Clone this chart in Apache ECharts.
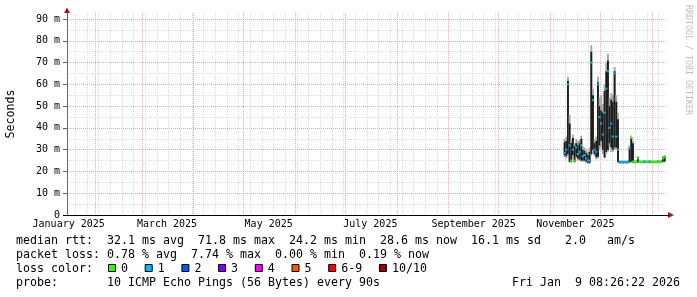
<!DOCTYPE html>
<html><head><meta charset="utf-8">
<script src="https://cdn.jsdelivr.net/npm/echarts@6/dist/echarts.min.js"></script>
<style>html,body{margin:0;padding:0;background:#fff}#c{width:697px;height:297px}</style>
</head><body><div id="c"></div>
<script>
// ---- data ----
const dates = [
'2025-11-09','2025-11-10','2025-11-11','2025-11-12','2025-11-13','2025-11-14','2025-11-15','2025-11-16','2025-11-17','2025-11-18','2025-11-19','2025-11-20','2025-11-21','2025-11-22','2025-11-23','2025-11-24','2025-11-25','2025-11-26','2025-11-27','2025-11-28','2025-11-29','2025-11-30',
'2025-12-01','2025-12-02','2025-12-03','2025-12-04','2025-12-05','2025-12-06','2025-12-07','2025-12-08','2025-12-09','2025-12-10','2025-12-11','2025-12-12','2025-12-13','2025-12-14','2025-12-15','2025-12-16','2025-12-17','2025-12-18','2025-12-19','2025-12-20','2025-12-21','2025-12-22','2025-12-23','2025-12-24','2025-12-25','2025-12-26','2025-12-27','2025-12-28','2025-12-29','2025-12-30','2025-12-31',
'2026-01-01','2026-01-02','2026-01-03','2026-01-04','2026-01-05','2026-01-06','2026-01-07','2026-01-08'];
const haloLow = [26.5,26,27,24,24,26.5,24,26,25,25,24.5,24.5,24.5,24,23.5,23.5,27,28,27,25.5,26,30,
 31,28,26,28,29,31,29,29,30,30,24,23.6,23.7,23.6,23.7,23.6,23.7,24,24,23.8,23.7,23.7,24,23.8,23.7,23.8,23.7,23.8,23.8,23.7,23.8,
 23.8,23.7,23.8,23.8,23.7,23.8,24.2,24.2];
const smokeLow = [27.5,27,28,24.5,24.5,27.5,24.5,26.8,26,25.5,25,25,25,24.5,24,24,28,30,28,26.5,26.8,32,
 34,30,26.5,29,30,33,31,30,31,31,24.3,23.8,23.9,23.8,23.9,23.8,23.9,24.2,24.5,24,23.9,23.9,24.2,24,23.9,24,23.9,24,24,23.9,24,
 24,23.9,24,24,23.9,24,24.5,24.5];
const smokeHigh = [33.5,34,61.5,42,33,35.4,31.5,33,32,33,35,30,29.5,28.5,27.5,29,75,55,33,34,61,50,
 48,47,57,66,71,50,53,52,66,52,44,24.8,24.7,24.6,24.7,24.6,24.7,31,35.6,33,24.8,24.8,26.5,24.8,24.7,24.8,24.9,24.8,24.8,24.9,24.8,
 24.8,24.7,24.8,24.9,24.8,24.9,26.5,27];
const haloHigh = [35,36,63.5,46,35,37,33,35,34,34.5,36.5,31.5,31,30,29,31,78,58,35,36,63.5,54,
 55,51,60,70,74,54,56,55,68,55,47,25.2,25,25,25,25,25.1,32,36.5,34,25.2,25.1,27,25.1,25,25.1,25.2,25.1,25.1,25.2,25.1,
 25.1,25,25.1,25.2,25.1,25.2,27,27.5];
const medianRtt = [28.5,30,60,32,25,30,25,31,28,29,32,27,27.5,26,25,25,70,52.8,30,29,60,45,
 42,37,47,58,66,40,42,36,65,36,30,24.2,24.2,24.1,24.2,24.2,24.2,30.6,35.4,24.5,24.4,24.3,26,24.4,24.3,24.4,24.4,24.3,24.4,24.4,24.3,
 24.4,24.3,24.4,24.4,24.3,24.4,26,26.5];
const lossClass = [1,1,1,1,0,1,0,1,1,1,1,1,1,1,1,1,1,1,1,1,1,1,
 1,1,1,1,1,1,1,1,1,1,1,1,1,1,1,1,1,1,0,0,0,0,0,0,0,0,1,0,0,1,0,
 0,0,0,0,0,0,0,0];
const lossLabels = ['0','1','2','3','4','5','6-9','10/10'];
const lossColors = ['#26ff00','#00b8ff','#0059ff','#7e00ff','#ff00ff','#ff5500','#ff0000','#a00000'];
const monthLabels = ['January 2025','March 2025','May 2025','July 2025','September 2025','November 2025'];
const monthLabelDates = ['2025-01-16','2025-03-16','2025-05-16','2025-07-16','2025-09-16','2025-11-16'];
const yMajorTicks = [10,20,30,40,50,60,70,80,90];
const yMinorTicks = [5,15,25,35,45,55,65,75,85];
const yLabelTicks = [0,10,20,30,40,50,60,70,80,90];
const legendLine1 = [[16,'median rtt:  32.1 ms avg  71.8 ms max  24.2 ms min  28.6 ms now  16.1 ms sd'],[565,'2.0'],[607,'am/s']];
const legendLine2 = [[16,'packet loss: 0.78 % avg  7.74 % max  0.00 % min  0.19 % now']];
const probeText = '10 ICMP Echo Pings (56 Bytes) every 90s';
const stampText = 'Fri Jan  9 08:26:22 2026';

// ---- helpers: day number since 2025-01-01 (UTC) ----
const D0 = Date.UTC(2025,0,1);
function dayNum(s){const p=s.split('-').map(Number);return (Date.UTC(p[0],p[1]-1,p[2])-D0)/86400000;}
const X_MIN = 14, X_MAX = 374; // axis extent in days
const mondays=[]; for(let d=dayNum('2025-01-20'); d<X_MAX; d+=7) mondays.push(d);
const monthStarts=[]; for(let m=1;m<13;m++){monthStarts.push((Date.UTC(2025,m,1)-D0)/86400000);}
const labelDays = monthLabelDates.map(dayNum);
const xs = dates.map(s=>dayNum(s)+0.5);

const MONO = 'DejaVu Sans Mono';
const FS = 11.63;
const chart = echarts.init(document.getElementById('c'), null, {renderer:'canvas'});

const graphic = [];
graphic.push({type:'polygon', shape:{points:[[64,13],[70,13],[67,7.5]]}, style:{fill:'#a01818'}, z:100});
graphic.push({type:'polygon', shape:{points:[[668,212],[668,218],[674,215]]}, style:{fill:'#a01818'}, z:100});
graphic.push({type:'line', shape:{x1:63, y1:215.5, x2:67, y2:215.5}, style:{stroke:'#000', lineWidth:1}, z:100});
graphic.push({type:'line', shape:{x1:667, y1:215.5, x2:669, y2:215.5}, style:{stroke:'#000', lineWidth:1}, z:100});
graphic.push({type:'text', x:688, y:5, rotation:-Math.PI/2, style:{text:'RRDTOOL / TOBI OETIKER', fontFamily:MONO, fontSize:8.3, fill:'#bdbdbd', align:'left', verticalAlign:'middle'}});
graphic.push({type:'text', x:11, y:114, rotation:Math.PI/2, style:{text:'Seconds', fontFamily:MONO, fontSize:FS, fill:'#000', align:'center', verticalAlign:'middle'}});
function txt(x,y,t,align){graphic.push({type:'text', x:x, y:y, style:{text:t, fontFamily:MONO, fontSize:FS, fill:'#000', align:align||'left', verticalAlign:'middle'}});}
legendLine1.forEach(a=>txt(a[0],241,a[1]));
legendLine2.forEach(a=>txt(a[0],255,a[1]));
txt(16,268.5,'loss color:');
let bx = 108.5;
lossLabels.forEach((l,i)=>{
  graphic.push({type:'rect', shape:{x:bx, y:264.5, width:7, height:7}, style:{fill:lossColors[i], stroke:'#000', lineWidth:1}});
  txt(bx+12.5, 268.5, l);
  bx += 22.7 + l.length*7 + 7;
});
txt(16,282.5,'probe:');
txt(107,282.5,probeText);
txt(680,282.5,stampText,'right');

const smokeData = xs.map((x,i)=>[x, haloLow[i], smokeLow[i], smokeHigh[i], haloHigh[i]]);
function renderSmoke(params, api){
  const x = api.value(0);
  const a = api.coord([x-0.5, api.value(1)]), b = api.coord([x+0.5, api.value(4)]);
  const c = api.coord([x-0.5, api.value(2)]), d = api.coord([x+0.5, api.value(3)]);
  return {type:'group', children:[
    {type:'rect', shape:{x:a[0], y:b[1], width:b[0]-a[0]+0.25, height:a[1]-b[1]}, style:{fill:'#a8a8a8'}},
    {type:'rect', shape:{x:c[0], y:d[1], width:d[0]-c[0]+0.25, height:c[1]-d[1]}, style:{fill:'#1e1e1e'}}
  ]};
}

chart.setOption({
  animation:false,
  grid:{left:67, right:30, top:13, bottom:82, containLabel:false},
  graphic: graphic,
  xAxis:[
    {type:'value', min:X_MIN, max:X_MAX, z:1,
     axisLine:{show:true, onZero:false, lineStyle:{color:'#000', width:1}},
     axisTick:{show:false, customValues:monthStarts},
     splitLine:{show:true, lineStyle:{color:'#eca9a9', type:[1,1], width:1}},
     axisLabel:{customValues:labelDays, margin:4, fontFamily:MONO, fontSize:10, color:'#000',
       formatter:(v)=>{const i=labelDays.findIndex(d=>Math.abs(d-v)<0.01);return i>=0?monthLabels[i]:'';}}},
    {type:'value', min:X_MIN, max:X_MAX, z:0, position:'bottom',
     axisLine:{show:false}, axisLabel:{show:false},
     axisTick:{show:false, customValues:mondays},
     splitLine:{show:true, lineStyle:{color:'#dadada', type:[1,1], width:1}}}
  ],
  yAxis:[
    {type:'value', min:0, max:92.76, z:1,
     axisLine:{show:true, onZero:false, lineStyle:{color:'#666', width:1}},
     axisTick:{show:true, length:4, customValues:yMajorTicks, lineStyle:{color:'#666'}},
     splitLine:{show:true, lineStyle:{color:'#eca9a9', type:[1,1], width:1}},
     axisLabel:{customValues:yLabelTicks, margin:7, fontFamily:MONO, fontSize:10, color:'#000',
       formatter:(v)=> v===0 ? '0' : (v+' m')}},
    {type:'value', min:0, max:92.76, z:0, position:'left',
     axisLine:{show:false}, axisLabel:{show:false},
     axisTick:{show:false, customValues:yMinorTicks},
     splitLine:{show:true, lineStyle:{color:'#dadada', type:[1,1], width:1}}}
  ],
  series:[
    {type:'custom', name:'smoke', xAxisIndex:0, yAxisIndex:0, z:2, silent:true,
     renderItem:renderSmoke, data:smokeData, encode:{x:0, y:[1,4]}},
    {type:'scatter', name:'median', xAxisIndex:0, yAxisIndex:0, z:5, silent:true,
     symbol:'rect', symbolSize:[2,2],
     data: xs.map((x,i)=>[x, medianRtt[i]]),
     itemStyle:{color:(p)=>lossColors[lossClass[p.dataIndex]], opacity:1}}
  ]
});
</script></body></html>
